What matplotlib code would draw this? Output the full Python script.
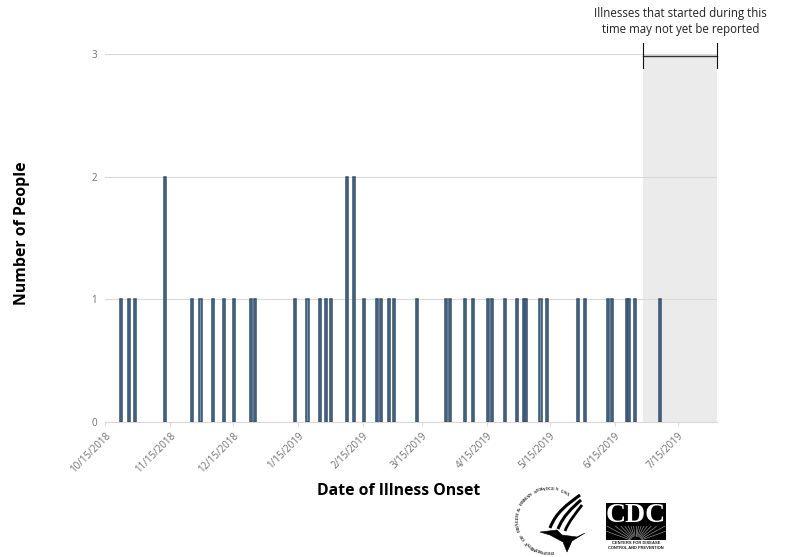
import numpy as np
import pandas as pd
import matplotlib
matplotlib.use("Agg")
import matplotlib.pyplot as plt
import matplotlib.dates as mdates
from matplotlib.patches import Rectangle, PathPatch, Polygon
from matplotlib.path import Path

onset_dates = ["2018-10-22","2018-10-26","2018-10-29","2018-11-12","2018-11-25","2018-11-29",
               "2018-12-05","2018-12-10","2018-12-15","2018-12-23","2018-12-25","2019-01-13",
               "2019-01-19","2019-01-25","2019-01-28","2019-01-30","2019-02-07","2019-02-10",
               "2019-02-15","2019-02-21","2019-02-23","2019-02-27","2019-03-01","2019-03-12",
               "2019-03-26","2019-03-28","2019-04-04","2019-04-08","2019-04-15","2019-04-17",
               "2019-04-23","2019-04-29","2019-05-02","2019-05-03","2019-05-10","2019-05-13",
               "2019-05-28","2019-05-31","2019-06-11","2019-06-13","2019-06-20","2019-06-21",
               "2019-06-24","2019-07-06"]
people = [1,1,1,2,1,1,1,1,1,1,1,1,1,1,1,1,2,2,1,1,1,1,1,1,1,1,1,1,1,1,1,1,1,1,1,1,1,1,1,1,1,1,1,1]
tick_dates = ["2018-10-15","2018-11-15","2018-12-15","2019-01-15","2019-02-15","2019-03-15",
              "2019-04-15","2019-05-15","2019-06-15","2019-07-15"]
tick_labels = ["10/15/2018","11/15/2018","12/15/2018","1/15/2019","2/15/2019","3/15/2019",
               "4/15/2019","5/15/2019","6/15/2019","7/15/2019"]
y_ticks = [0,1,2,3]
shade_start = "2019-06-28 08:00"
x_start = "2018-10-15"
x_end = "2019-08-02 14:00"

W, H = 788, 557
fig = plt.figure(figsize=(W/100, H/100), dpi=100)
L, R, T, B = 105, 717, 54, 422
ax = fig.add_axes([L/W, 1-B/H, (R-L)/W, (B-T)/H])
num = lambda s: mdates.date2num(pd.Timestamp(s))
ax.set_xlim(num(x_start), num(x_end))
ax.set_ylim(0, 3)
ax.axvspan(num(shade_start), num(x_end), color="#ebebeb", lw=0, zorder=0)
ax.bar([num(d) for d in onset_dates], people, width=1.0, align="edge",
       facecolor="#7492b0", edgecolor="#34506c", linewidth=1.1, zorder=3)
ax.set_yticks(y_ticks)
ax.set_xticks([num(d) for d in tick_dates])
ax.set_xticklabels(tick_labels, rotation=45, ha="right", rotation_mode="anchor",
                   fontsize=7, family="Open Sans", color="#6e6e6e")
ax.set_yticklabels([str(v) for v in y_ticks], fontsize=7, family="Open Sans", color="#6e6e6e")
ax.tick_params(axis="x", length=3, color="#d9d9d9", width=0.8, pad=3)
ax.tick_params(axis="y", length=0, pad=6)
ax.grid(axis="y", color="#d9d9d9", lw=0.8, zorder=1)
ax.set_axisbelow(True)
for k in ("top", "right", "left"):
    ax.spines[k].set_visible(False)
ax.spines["bottom"].set_color("#d9d9d9")
ax.spines["bottom"].set_linewidth(0.8)

# pixel overlay for annotation and logos
ov = fig.add_axes([0, 0, 1, 1], zorder=5)
ov.set_xlim(0, W); ov.set_ylim(H, 0); ov.axis("off"); ov.patch.set_alpha(0)
ov.text(680.5, 14, "Illnesses that started during this", ha="center", va="center",
        fontsize=8.3, family="Open Sans", color="#222222")
ov.text(680.5, 30, "time may not yet be reported", ha="center", va="center",
        fontsize=8.3, family="Open Sans", color="#222222")
ov.plot([643, 717], [55.5, 55.5], color="#333333", lw=1.0)
ov.plot([643, 643], [43, 68], color="#111111", lw=0.8)
ov.plot([717, 717], [43, 68], color="#111111", lw=0.8)
ov.text(22, 233, "Number of People", rotation=90, ha="center", va="center",
        fontsize=11.4, fontweight="bold", family="Open Sans", color="black")
ov.text(399, 491, "Date of Illness Onset", ha="center", va="center",
        fontsize=11.3, fontweight="bold", family="Open Sans", color="black")

# CDC logo
ov.add_patch(Rectangle((606, 503), 60, 37, fc="black", ec="none"))
for a in np.linspace(200, 340, 17):
    c, s = np.cos(np.radians(a)), np.sin(np.radians(a))
    ln, = ov.plot([636 + 6*c, 636 + 40*c], [542 + 6*s, 542 + 40*s], color="#9a9a9a", lw=0.45)
    ln.set_clip_path(Rectangle((606, 526), 60, 14, transform=ov.transData))
ov.text(636, 516, "CDC", ha="center", va="center", fontsize=20, family="Liberation Serif",
        color="white", fontweight="bold")
ov.text(636, 543.5, "CENTERS FOR DISEASE", ha="center", va="center", fontsize=3,
        family="Liberation Sans", fontweight="bold", color="#222222")
ov.text(636, 548, "CONTROL AND PREVENTION", ha="center", va="center", fontsize=2.9,
        family="Liberation Sans", fontweight="bold", color="#222222")

# HHS logo: circular text, tops of letters outward
txt = "DEPARTMENT OF HEALTH & HUMAN SERVICES USA"
cx, cy, r = 549, 520, 31
angs = np.linspace(85, 305, len(txt))
for ch, a in zip(txt, angs):
    t = np.radians(a)
    ov.text(cx + r*np.cos(t), cy + r*np.sin(t), ch, ha="center", va="center",
            fontsize=3.8, family="Liberation Serif", fontweight="bold", color="#222222",
            rotation=270 - a, rotation_mode="anchor")
codes = [Path.MOVETO, Path.CURVE4, Path.CURVE4, Path.CURVE4]
for (p0, p1, p2, p3, w) in [((550, 528), (556, 512), (568, 504), (580, 495), 2.2),
                            ((558, 529), (563, 516), (572, 508), (581, 500), 2.2),
                            ((565, 531), (569, 521), (576, 513), (582, 505), 2.0)]:
    ov.add_patch(PathPatch(Path([p0, p1, p2, p3], codes), fc="none", ec="black", lw=w))
ov.add_patch(Polygon([(540, 532), (557, 530), (562, 535), (577, 537), (585, 533),
                      (572, 541), (567, 552), (563, 542), (550, 535)],
                     closed=True, fc="black", ec="black", lw=0.4))

fig.savefig("out.png", dpi=100)
